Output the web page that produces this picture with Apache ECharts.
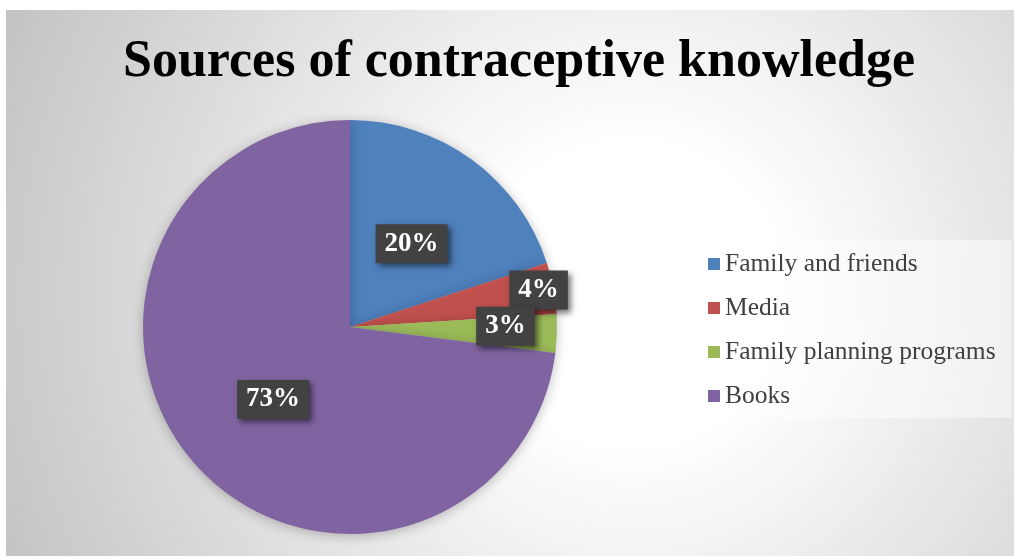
<!DOCTYPE html>
<html>
<head>
<meta charset="utf-8">
<script src="https://cdn.jsdelivr.net/npm/echarts@6/dist/echarts.min.js"></script>
<style>
  html, body { margin: 0; padding: 0; background: #ffffff; }
  #bg { position: absolute; left: 6px; top: 10px; width: 1008px; height: 546px;
        background: radial-gradient(circle farthest-corner at 62% 52%, #ffffff 0%, #ffffff 22%, #c3c3c3 100%); }
  #chart { position: absolute; left: 0; top: 0; width: 1014px; height: 559px; }
</style>
</head>
<body>
<div id="bg"></div>
<div id="chart"></div>
<script>
const titleText = 'Sources of contraceptive knowledge';
const categories = ['Family and friends', 'Media', 'Family planning programs', 'Books'];
const percentages = [20, 4, 3, 73];
const colors = ['#4f81bd', '#c0504d', '#9bbb59', '#8064a2'];

// label nudges (styling only) relative to ECharts' "inside" position
const labelNudge = [[-1, 3], [84, -17], [49, -4], [3, 2]];

const chart = echarts.init(document.getElementById('chart'), null, { renderer: 'canvas' });

const option = {
  animation: false,
  backgroundColor: 'transparent',
  title: {
    text: titleText,
    left: 514,
    textAlign: 'center',
    top: 32,
    textStyle: { fontFamily: 'Liberation Serif', fontWeight: 'bold', fontSize: 52, color: '#000000' }
  },
  legend: {
    orient: 'vertical',
    left: 695,
    top: 240,
    padding: [11, 16, 9, 13],
    backgroundColor: 'rgba(255,255,255,0.45)',
    itemWidth: 12,
    itemHeight: 12,
    itemGap: 18,
    icon: 'rect',
    data: categories,
    textStyle: { fontFamily: 'Liberation Serif', fontSize: 25.5, color: '#404040', lineHeight: 25, padding: [0, 0, 0, 0] }
  },
  series: [{
    type: 'pie',
    center: [350, 327],
    radius: 207,
    startAngle: 90,
    clockwise: true,
    avoidLabelOverlap: false,
    itemStyle: { borderWidth: 0, shadowBlur: 12, shadowColor: 'rgba(0,0,0,0.25)', shadowOffsetY: 2 },
    label: {
      show: true,
      position: 'inside',
      formatter: '{c}%',
      fontFamily: 'Liberation Serif',
      fontWeight: 'bold',
      fontSize: 27,
      lineHeight: 27,
      color: '#ffffff',
      backgroundColor: '#424242',
      padding: [6, 9, 6, 9],
      shadowColor: 'rgba(0,0,0,0.55)',
      shadowBlur: 6,
      shadowOffsetX: 3,
      shadowOffsetY: 3
    },
    labelLine: { show: false },
    labelLayout: function (params) {
      const n = labelNudge[params.dataIndex] || [0, 0];
      return { dx: n[0], dy: n[1] };
    },
    emphasis: { disabled: true },
    data: categories.map(function (name, i) {
      return { name: name, value: percentages[i], itemStyle: { color: colors[i] } };
    })
  }]
};

chart.setOption(option);
</script>
</body>
</html>
